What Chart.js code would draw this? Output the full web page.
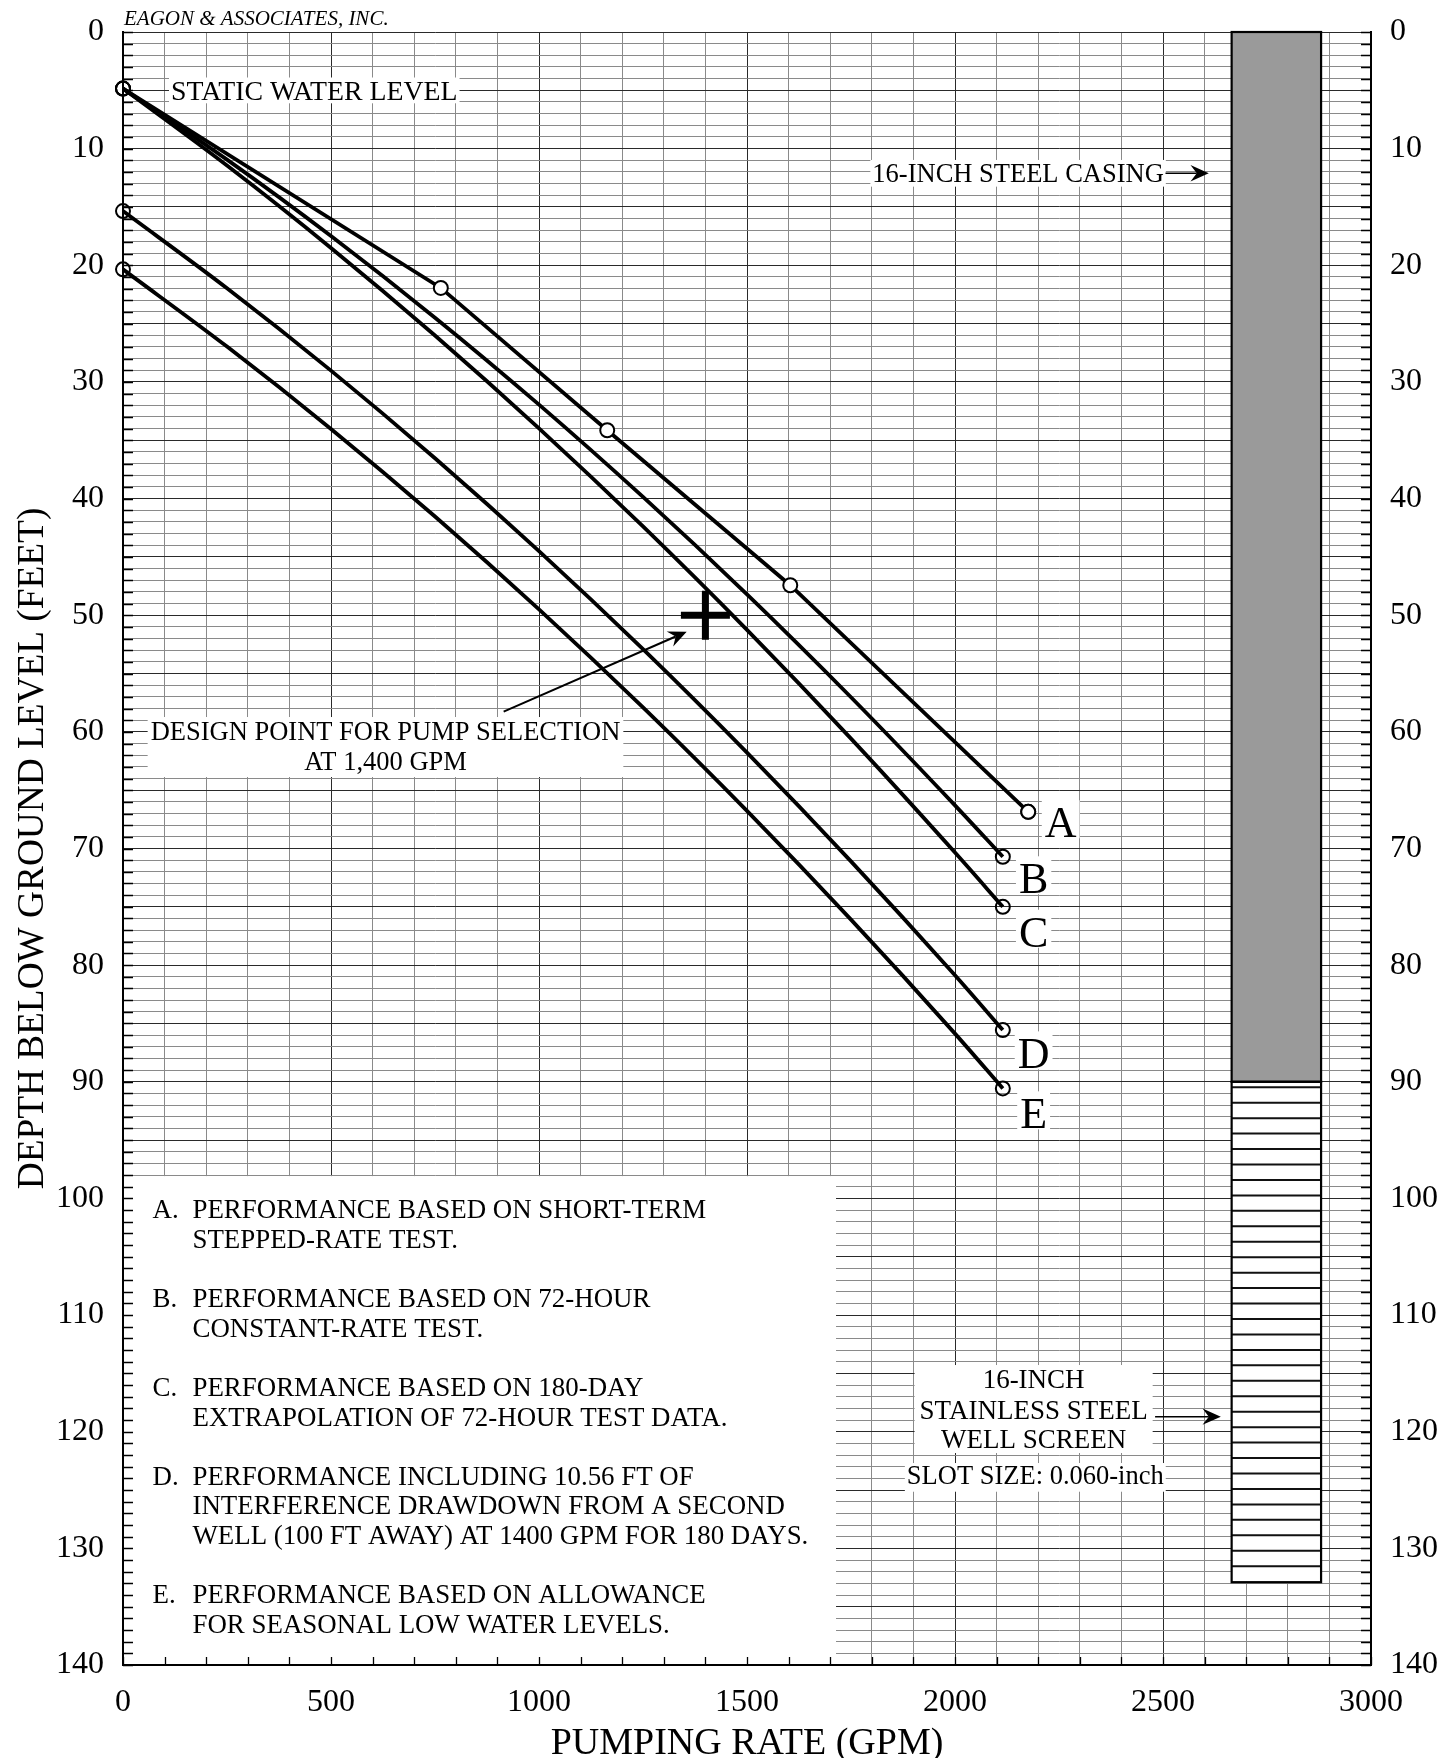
<!DOCTYPE html>
<html>
<head>
<meta charset="utf-8">
<script src="https://cdn.jsdelivr.net/npm/chart.js@4.4.1/dist/chart.umd.min.js"></script>
<style>
html,body{margin:0;padding:0;background:#fff;}
#wrap{width:1456px;height:1758px;position:relative;}
canvas{display:block;}
</style>
</head>
<body>
<div id="wrap"><canvas id="c" width="1456" height="1758"></canvas></div>
<script>
// ---------- DATA ----------
const xTickLabels = [0, 500, 1000, 1500, 2000, 2500, 3000];
const yTickLabels = [0, 10, 20, 30, 40, 50, 60, 70, 80, 90, 100, 110, 120, 130, 140];

// A. short-term stepped-rate test (drawn straight through the test points)
const curveA_Q = [0, 764, 1164, 1604, 2176];
const curveA_S = [4.85, 21.94, 34.14, 47.43, 66.86];
// measured test points on curve A (open circles)
const testA_Q = [764, 1164, 1604, 2176];
const testA_S = [21.94, 34.14, 47.43, 66.86];
// B. 72-hour constant-rate test
const curveB_Q = [0, 250, 500, 750, 1000, 1250, 1500, 1750, 2000, 2115];
const curveB_S = [4.85, 10.94, 17.49, 24.49, 31.95, 39.86, 48.21, 57.03, 66.30, 70.71];
// C. 180-day extrapolation
const curveC_Q = [0, 250, 500, 750, 1000, 1250, 1500, 1750, 2000, 2115];
const curveC_S = [4.85, 11.45, 18.51, 26.02, 33.98, 42.39, 51.26, 60.58, 70.35, 75.0];
// D. including interference drawdown
const curveD_Q = [0, 250, 500, 750, 1000, 1250, 1500, 1750, 2000, 2115];
const curveD_S = [15.35, 21.97, 29.03, 36.54, 44.50, 52.91, 61.78, 71.10, 80.87, 85.57];
// E. seasonal low water levels
const curveE_Q = [0, 250, 500, 750, 1000, 1250, 1500, 1750, 2000, 2115];
const curveE_S = [20.35, 26.97, 34.03, 41.54, 49.50, 57.91, 66.78, 76.10, 85.87, 90.57];

// design point
const designQ = [1400];
const designS = [50];

// well construction (GPM range used as drawing column, depth in feet)
const wellColumnQ = [2665, 2880];
const casingDepth = [0, 90];
const screenDepth = [90, 132.9];
const screenFirstStripe = 90.47;
const screenStripeGap = 1.3245;

const curveLetters = ['A', 'B', 'C', 'D', 'E'];
const legendLabels = ['A.', 'B.', 'C.', 'D.', 'E.'];
const legendLines = [
  ['PERFORMANCE BASED ON SHORT-TERM', 'STEPPED-RATE TEST.'],
  ['PERFORMANCE BASED ON 72-HOUR', 'CONSTANT-RATE TEST.'],
  ['PERFORMANCE BASED ON 180-DAY', 'EXTRAPOLATION OF 72-HOUR TEST DATA.'],
  ['PERFORMANCE INCLUDING 10.56 FT OF', 'INTERFERENCE DRAWDOWN FROM A SECOND', 'WELL (100 FT AWAY) AT 1400 GPM FOR 180 DAYS.'],
  ['PERFORMANCE BASED ON ALLOWANCE', 'FOR SEASONAL LOW WATER LEVELS.']
];

// ---------- LAYOUT / STYLE ----------
const FONT = "'Liberation Serif','Times New Roman',serif";
const GRID_MAJOR = '#2a2a2a';
const GRID_MINOR = '#8a8a8a';

// annotation anchor positions (in axis units)
const legendBox = {q: [0, 1714], s: [98, 140]};
const legendPos = {labelQ: 71, textQ: 167, firstS: 101.71, lineStep: 2.5377, size: 26.9};
const letterPos = [[2254, 69.04], [2189, 73.84], [2189, 78.42], [2189, 88.85], [2189, 93.99]];
const staticLabel = {text: 'STATIC WATER LEVEL', q: 115.4, s: 5.83, size: 27.8};
const casingLabel = {text: '16-INCH STEEL CASING', q: 2502, s: 12.83, size: 26.5};
const designLabel = {lines: ['DESIGN POINT FOR PUMP SELECTION', 'AT 1,400 GPM'], q: 631, s: [60.70, 63.27], size: 26.5};
const screenLabel = {lines: ['16-INCH', 'STAINLESS STEEL', 'WELL SCREEN'], q: 2189, s: [116.28, 118.91, 121.37], size: 27};
const slotLabel = {text: 'SLOT SIZE: 0.060-inch', q: 2193, s: 124.51, size: 26.5};
const casingArrow = {q: [2506, 2610], s: [12.11, 12.11]};
const screenArrow = {q: [2481, 2639], s: [118.71, 118.71]};
const designArrow = {q: [915, 1355], s: [58.27, 51.41]};

const toPts = (q, s) => q.map((v, i) => ({x: v, y: s[i]}));
const endRadius = c => (c.dataIndex === 0 || c.dataIndex === c.dataset.data.length - 1) ? 7 : 0;
function curve(label, q, s, straight) {
  return {
    type: 'line', label, data: toPts(q, s),
    borderColor: '#000', borderWidth: 3.8, fill: false,
    cubicInterpolationMode: straight ? 'default' : 'monotone', tension: 0,
    pointRadius: endRadius, pointHoverRadius: endRadius,
    pointBorderColor: '#000', pointBorderWidth: 2,
    pointBackgroundColor: 'rgba(0,0,0,0)', clip: false
  };
}

function drawArrow(ctx, x1, y1, x2, y2, lw) {
  const ang = Math.atan2(y2 - y1, x2 - x1);
  const L = 20, W = 24 * Math.PI / 180, notch = 12;
  const nx = x2 - notch * Math.cos(ang), ny = y2 - notch * Math.sin(ang);
  ctx.lineWidth = lw;
  ctx.beginPath(); ctx.moveTo(x1, y1); ctx.lineTo(nx, ny); ctx.stroke();
  ctx.beginPath();
  ctx.moveTo(x2, y2);
  ctx.lineTo(x2 - L * Math.cos(ang - W), y2 - L * Math.sin(ang - W));
  ctx.lineTo(nx, ny);
  ctx.lineTo(x2 - L * Math.cos(ang + W), y2 - L * Math.sin(ang + W));
  ctx.closePath(); ctx.fill();
}

function whiteBehind(ctx, lines, xs, aligns, baselines, padX, top, bottom) {
  let minX = Infinity, maxX = -Infinity;
  lines.forEach((t, i) => {
    const w = ctx.measureText(t).width;
    let x0 = xs[i];
    if (aligns[i] === 'center') x0 -= w / 2;
    else if (aligns[i] === 'right') x0 -= w;
    minX = Math.min(minX, x0); maxX = Math.max(maxX, x0 + w);
  });
  const y0 = baselines[0] - top, y1 = baselines[baselines.length - 1] + bottom;
  ctx.fillStyle = '#fff';
  ctx.fillRect(minX - padX, y0, maxX - minX + 2 * padX, y1 - y0);
}

const wellPlugin = {
  id: 'wellPlugin',
  beforeDatasetsDraw(chart) {
    const {ctx, chartArea: a, scales: {x, y}} = chart;
    const X = v => x.getPixelForValue(v), Y = v => y.getPixelForValue(v);
    ctx.save();
    // white legend panel
    ctx.fillStyle = '#fff';
    const lx1 = X(legendBox.q[0]), lx2 = X(legendBox.q[1]);
    const ly1 = Y(legendBox.s[0]) + 1, ly2 = Y(legendBox.s[1]);
    ctx.fillRect(lx1, ly1, lx2 - lx1, ly2 - ly1);

    // text backgrounds
    ctx.font = `${staticLabel.size}px ${FONT}`;
    whiteBehind(ctx, [staticLabel.text], [X(staticLabel.q)], ['left'], [Y(staticLabel.s)], 2, 22.5, 3.3);
    ctx.font = `${casingLabel.size}px ${FONT}`;
    whiteBehind(ctx, [casingLabel.text], [X(casingLabel.q)], ['right'], [Y(casingLabel.s)], 2, 21.7, 5);
    ctx.font = `${designLabel.size}px ${FONT}`;
    whiteBehind(ctx, designLabel.lines, designLabel.lines.map(() => X(designLabel.q)), ['center', 'center'],
      designLabel.s.map(Y), 3, 23, 7);
    ctx.font = `${screenLabel.size}px ${FONT}`;
    whiteBehind(ctx, screenLabel.lines, screenLabel.lines.map(() => X(screenLabel.q)), ['center', 'center', 'center'],
      screenLabel.s.map(Y), 5, 23.3, 5.3);
    ctx.font = `${slotLabel.size}px ${FONT}`;
    whiteBehind(ctx, [slotLabel.text], [X(slotLabel.q)], ['center'], [Y(slotLabel.s)], 2, 21.3, 7.4);
    ctx.font = `44px ${FONT}`;
    curveLetters.forEach((t, i) => {
      whiteBehind(ctx, [t], [X(letterPos[i][0])], ['center'], [Y(letterPos[i][1])], 3, 37, 1);
    });

    // casing and screen
    const cx1 = X(wellColumnQ[0]), cx2 = X(wellColumnQ[1]);
    const cy1 = Y(casingDepth[0]), cy2 = Y(casingDepth[1]);
    const sy1 = Y(screenDepth[0]), sy2 = Y(screenDepth[1]);
    ctx.fillStyle = '#9a9a9a';
    ctx.fillRect(cx1, cy1, cx2 - cx1, cy2 - cy1);
    ctx.fillStyle = '#fff';
    ctx.fillRect(cx1, sy1, cx2 - cx1, sy2 - sy1);
    ctx.strokeStyle = '#111';
    ctx.lineWidth = 2;
    ctx.beginPath();
    for (let d = screenFirstStripe; d < screenDepth[1] - 0.4; d += screenStripeGap) {
      const py = Y(d);
      ctx.moveTo(cx1, py); ctx.lineTo(cx2, py);
    }
    ctx.stroke();
    ctx.lineWidth = 2.2;
    ctx.strokeStyle = '#000';
    ctx.strokeRect(cx1, cy1, cx2 - cx1, cy2 - cy1);
    ctx.strokeRect(cx1, sy1, cx2 - cx1, sy2 - sy1);

    // frame
    ctx.lineWidth = 2;
    ctx.beginPath();
    ctx.moveTo(a.left, a.top); ctx.lineTo(a.left, a.bottom); ctx.lineTo(a.right, a.bottom); ctx.lineTo(a.right, a.top);
    ctx.stroke();
    // inner tick marks
    ctx.lineWidth = 1.3;
    ctx.beginPath();
    for (let d = y.min; d <= y.max; d += 1) {
      const py = Math.round(Y(d)) + 0.5;
      ctx.moveTo(a.left, py); ctx.lineTo(a.left + 10, py);
      ctx.moveTo(a.right - 10, py); ctx.lineTo(a.right, py);
    }
    for (let q = x.min; q <= x.max; q += 100) {
      const px = Math.round(X(q)) + 0.5;
      ctx.moveTo(px, a.bottom); ctx.lineTo(px, a.bottom - 8);
    }
    ctx.stroke();
    ctx.restore();
  },
  afterDatasetsDraw(chart) {
    const {ctx, chartArea: a, scales: {x, y}} = chart;
    const X = v => x.getPixelForValue(v), Y = v => y.getPixelForValue(v);
    ctx.save();
    ctx.fillStyle = '#000';
    ctx.strokeStyle = '#000';
    ctx.textBaseline = 'alphabetic';

    // firm name
    ctx.font = `italic 21px ${FONT}`;
    ctx.textAlign = 'left';
    ctx.fillText('EAGON & ASSOCIATES, INC.', a.left + 1, a.top - 7.5);

    ctx.font = `${staticLabel.size}px ${FONT}`;
    ctx.textAlign = 'left';
    ctx.fillText(staticLabel.text, X(staticLabel.q), Y(staticLabel.s));
    ctx.font = `${casingLabel.size}px ${FONT}`;
    ctx.textAlign = 'right';
    ctx.fillText(casingLabel.text, X(casingLabel.q), Y(casingLabel.s));
    ctx.textAlign = 'center';
    ctx.font = `${designLabel.size}px ${FONT}`;
    designLabel.lines.forEach((t, i) => ctx.fillText(t, X(designLabel.q), Y(designLabel.s[i])));
    ctx.font = `${screenLabel.size}px ${FONT}`;
    screenLabel.lines.forEach((t, i) => ctx.fillText(t, X(screenLabel.q), Y(screenLabel.s[i])));
    ctx.font = `${slotLabel.size}px ${FONT}`;
    ctx.fillText(slotLabel.text, X(slotLabel.q), Y(slotLabel.s));

    // legend
    ctx.font = `${legendPos.size}px ${FONT}`;
    ctx.textAlign = 'left';
    let k = 0;
    legendLines.forEach((lines, i) => {
      ctx.fillText(legendLabels[i], X(legendPos.labelQ), Y(legendPos.firstS + k * legendPos.lineStep));
      lines.forEach(t => {
        ctx.fillText(t, X(legendPos.textQ), Y(legendPos.firstS + k * legendPos.lineStep));
        k++;
      });
      k++;
    });

    // curve letters
    ctx.font = `44px ${FONT}`;
    ctx.textAlign = 'center';
    curveLetters.forEach((t, i) => ctx.fillText(t, X(letterPos[i][0]), Y(letterPos[i][1])));

    // arrows
    drawArrow(ctx, X(casingArrow.q[0]), Y(casingArrow.s[0]), X(casingArrow.q[1]), Y(casingArrow.s[1]), 1.5);
    drawArrow(ctx, X(screenArrow.q[0]), Y(screenArrow.s[0]), X(screenArrow.q[1]), Y(screenArrow.s[1]), 1.5);
    drawArrow(ctx, X(designArrow.q[0]), Y(designArrow.s[0]), X(designArrow.q[1]), Y(designArrow.s[1]), 2);
    ctx.restore();
  }
};

const xTickFont = {family: FONT, size: 32};
const yTickFont = {family: FONT, size: 32, lineHeight: 0.4};
const depthGrid = {
  color: c => (c.tick && c.tick.value % 5 === 0) ? GRID_MAJOR : GRID_MINOR,
  lineWidth: 1, drawTicks: false, tickLength: 0
};
const depthTicks = {
  stepSize: 1, autoSkip: false, color: '#000', font: yTickFont, padding: 19,
  callback: v => yTickLabels.includes(v) ? String(v) : ''
};

new Chart(document.getElementById('c'), {
  type: 'line',
  data: {
    datasets: [
      {type: 'scatter', label: 'Design point', data: toPts(designQ, designS), showLine: false,
       pointStyle: 'cross', pointRadius: 24.5, pointHoverRadius: 24.5, pointBorderWidth: 7,
       pointBorderColor: '#000', pointBackgroundColor: '#000', clip: false},
      {type: 'scatter', label: 'A test points', data: toPts(testA_Q, testA_S), showLine: false,
       pointRadius: 7, pointHoverRadius: 7, pointBorderWidth: 2, pointBorderColor: '#000',
       pointBackgroundColor: '#fff', clip: false},
      curve('A', curveA_Q, curveA_S, true),
      curve('B', curveB_Q, curveB_S, false),
      curve('C', curveC_Q, curveC_S, false),
      curve('D', curveD_Q, curveD_S, false),
      curve('E', curveE_Q, curveE_S, false)
    ]
  },
  options: {
    responsive: false, animation: false, devicePixelRatio: 1,
    layout: {padding: {top: 32, left: 0, right: 0, bottom: 0}, autoPadding: false},
    plugins: {legend: {display: false}, tooltip: {enabled: false}},
    events: [],
    scales: {
      x: {
        type: 'linear', position: 'bottom', min: 0, max: 3000,
        ticks: {stepSize: 100, autoSkip: false, maxRotation: 0, minRotation: 0, padding: 18,
                color: '#000', font: xTickFont,
                callback: v => xTickLabels.includes(v) ? String(v) : ''},
        grid: {color: c => (c.tick && c.tick.value % 500 === 0) ? GRID_MAJOR : GRID_MINOR,
               lineWidth: 1, drawTicks: false, tickLength: 0},
        border: {display: true, color: '#000', width: 2},
        title: {display: true, text: 'PUMPING RATE (GPM)', color: '#000',
                font: {family: FONT, size: 38, lineHeight: 0.76}, padding: 0},
        afterFit: s => { s.height = 93; }
      },
      y: {
        type: 'linear', position: 'left', reverse: true, min: 0, max: 140,
        ticks: depthTicks, grid: depthGrid,
        border: {display: true, color: '#000', width: 2},
        title: {display: true, text: 'DEPTH BELOW GROUND LEVEL (FEET)', color: '#000',
                font: {family: FONT, size: 37.3, lineHeight: 0.76}, padding: {top: 19.4, bottom: 0}},
        afterFit: s => { s.width = 123; }
      },
      y2: {
        type: 'linear', position: 'right', reverse: true, min: 0, max: 140,
        ticks: depthTicks,
        grid: {drawOnChartArea: false, drawTicks: false, tickLength: 0},
        border: {display: true, color: '#000', width: 2},
        afterFit: s => { s.width = 85; }
      }
    }
  },
  plugins: [wellPlugin]
});
</script>
</body>
</html>
